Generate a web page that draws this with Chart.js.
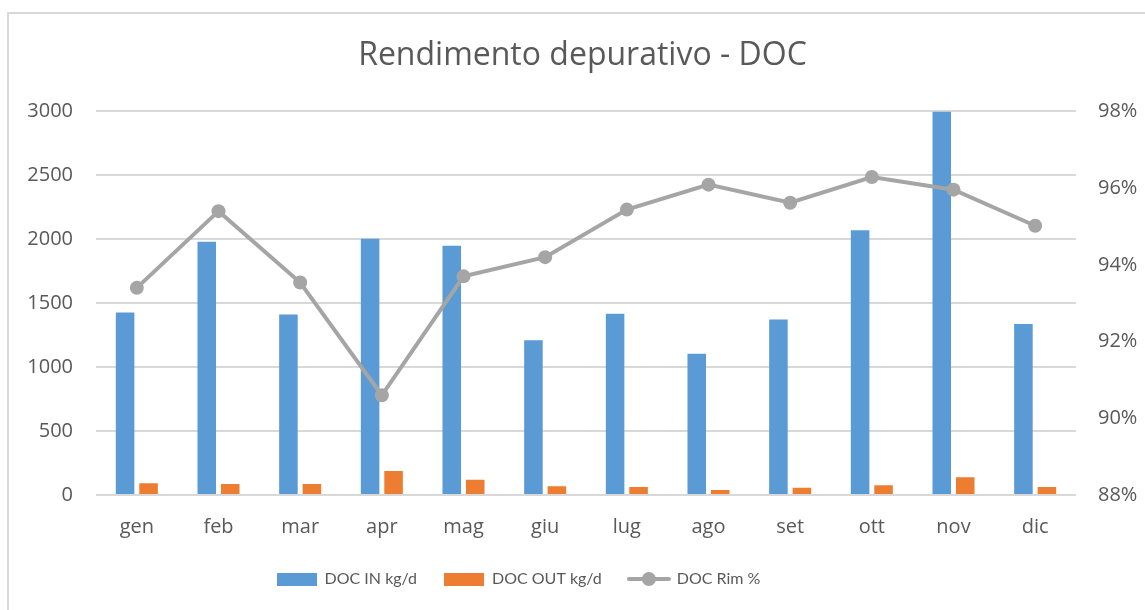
<!DOCTYPE html>
<html>
<head>
<meta charset="utf-8">
<script src="https://cdn.jsdelivr.net/npm/chart.js@4.4.1/dist/chart.umd.min.js"></script>
<style>
  html, body { margin: 0; padding: 0; background: #fff; overflow: hidden; }
  #frame { position: absolute; left: 7px; top: 12px; width: 1200px; height: 700px; border: 2px solid #d9d9d9; }
  #wrap { position: absolute; left: 0; top: 0; width: 1145px; height: 610px; }
</style>
</head>
<body>
<div id="frame"></div>
<div id="wrap"><canvas id="chart" width="1145" height="610"></canvas></div>
<script>
const months = ["gen", "feb", "mar", "apr", "mag", "giu", "lug", "ago", "set", "ott", "nov", "dic"]
const docIn = [1428, 1981, 1412, 2005, 1950, 1211, 1417, 1104, 1373, 2070, 3000, 1337]
const docOut = [92, 86, 86, 188, 120, 68, 63, 39, 57, 76, 138, 63]
const docRim = [93.40, 95.40, 93.54, 90.60, 93.70, 94.20, 95.44, 96.09, 95.62, 96.29, 95.96, 95.02]

const TEXT = "#595959"
const BLUE = "#5B9BD5"
const ORANGE = "#ED7D31"
const GRAY = "#A5A5A5"
const GRID = "#D9D9D9"

function boxIcon(color) {
  const c = document.createElement("canvas")
  c.width = 40
  c.height = 13
  const ctx = c.getContext("2d")
  ctx.fillStyle = color
  ctx.fillRect(0, 0, 40, 13)
  return c
}

function lineIcon(color) {
  const c = document.createElement("canvas")
  c.width = 44
  c.height = 16
  const ctx = c.getContext("2d")
  ctx.strokeStyle = color
  ctx.lineWidth = 4
  ctx.lineCap = "round"
  ctx.beginPath()
  ctx.moveTo(2, 8)
  ctx.lineTo(42, 8)
  ctx.stroke()
  ctx.fillStyle = color
  ctx.beginPath()
  ctx.arc(22, 8, 7, 0, Math.PI * 2)
  ctx.fill()
  return c
}

const icons = [boxIcon(BLUE), boxIcon(ORANGE), lineIcon(GRAY)]

// nudge title and legend sideways, as Excel does not center them on the canvas
const nudgeBoxes = {
  id: "nudgeBoxes",
  afterLayout(chart) {
    if (chart.titleBlock) {
      chart.titleBlock.left += 10
      chart.titleBlock.right += 10
    }
    if (chart.legend) {
      chart.legend.left -= 54
      chart.legend.right -= 54
    }
  }
}

const ctx = document.getElementById("chart").getContext("2d")

new Chart(ctx, {
  data: {
    labels: months,
    datasets: [
      {
        type: "line",
        label: "DOC Rim %",
        data: docRim,
        yAxisID: "y2",
        borderColor: GRAY,
        backgroundColor: GRAY,
        borderWidth: 4,
        pointRadius: 7,
        pointBackgroundColor: GRAY,
        pointBorderWidth: 0,
        tension: 0,
        order: 0
      },
      {
        type: "bar",
        label: "DOC IN kg/d",
        data: docIn,
        yAxisID: "y",
        backgroundColor: BLUE,
        categoryPercentage: 0.575,
        barPercentage: 0.79,
        order: 1
      },
      {
        type: "bar",
        label: "DOC OUT kg/d",
        data: docOut,
        yAxisID: "y",
        backgroundColor: ORANGE,
        categoryPercentage: 0.575,
        barPercentage: 0.79,
        order: 1
      }
    ]
  },
  plugins: [nudgeBoxes],
  options: {
    responsive: false,
    animation: false,
    layout: { padding: { left: 0, right: 0, top: 0, bottom: 13 } },
    scales: {
      x: {
        grid: { display: false },
        border: { display: false },
        ticks: { color: TEXT, font: { family: "'Open Sans', sans-serif", size: 20 }, padding: 12 },
        afterFit: scale => { scale.height = 49 }
      },
      y: {
        position: "left",
        min: 0,
        max: 3000,
        ticks: {
          stepSize: 500,
          color: TEXT,
          padding: 23,
          font: { family: "'Open Sans', sans-serif", size: 20 },
          callback: v => String(v)
        },
        grid: { color: GRID, lineWidth: 2, drawTicks: false },
        border: { display: false },
        afterFit: scale => { scale.width = 96 }
      },
      y2: {
        position: "right",
        min: 88,
        max: 98,
        ticks: {
          stepSize: 2,
          color: TEXT,
          padding: 22,
          font: { family: "'Open Sans', sans-serif", size: 20 },
          callback: v => v + "%"
        },
        grid: { display: false, drawTicks: false },
        border: { display: false },
        afterFit: scale => { scale.width = 69 }
      }
    },
    plugins: {
      title: {
        display: true,
        text: "Rendimento depurativo - DOC",
        color: TEXT,
        font: { family: "'Open Sans', sans-serif", size: 32, weight: "normal" },
        padding: { top: 37, bottom: 36 }
      },
      legend: {
        position: "bottom",
        labels: {
          color: TEXT,
          font: { family: "Lato, sans-serif", size: 16 },
          usePointStyle: true,
          pointStyleWidth: 40,
          padding: 27,
          generateLabels: chart => {
            const order = [1, 2, 0]
            return order.map((di, i) => ({
              text: chart.data.datasets[di].label,
              pointStyle: icons[i],
              fillStyle: chart.data.datasets[di].backgroundColor,
              strokeStyle: "transparent",
              lineWidth: 0,
              fontColor: TEXT,
              datasetIndex: di,
              hidden: false
            }))
          }
        }
      },
      tooltip: { enabled: false }
    }
  }
})
</script>
</body>
</html>
